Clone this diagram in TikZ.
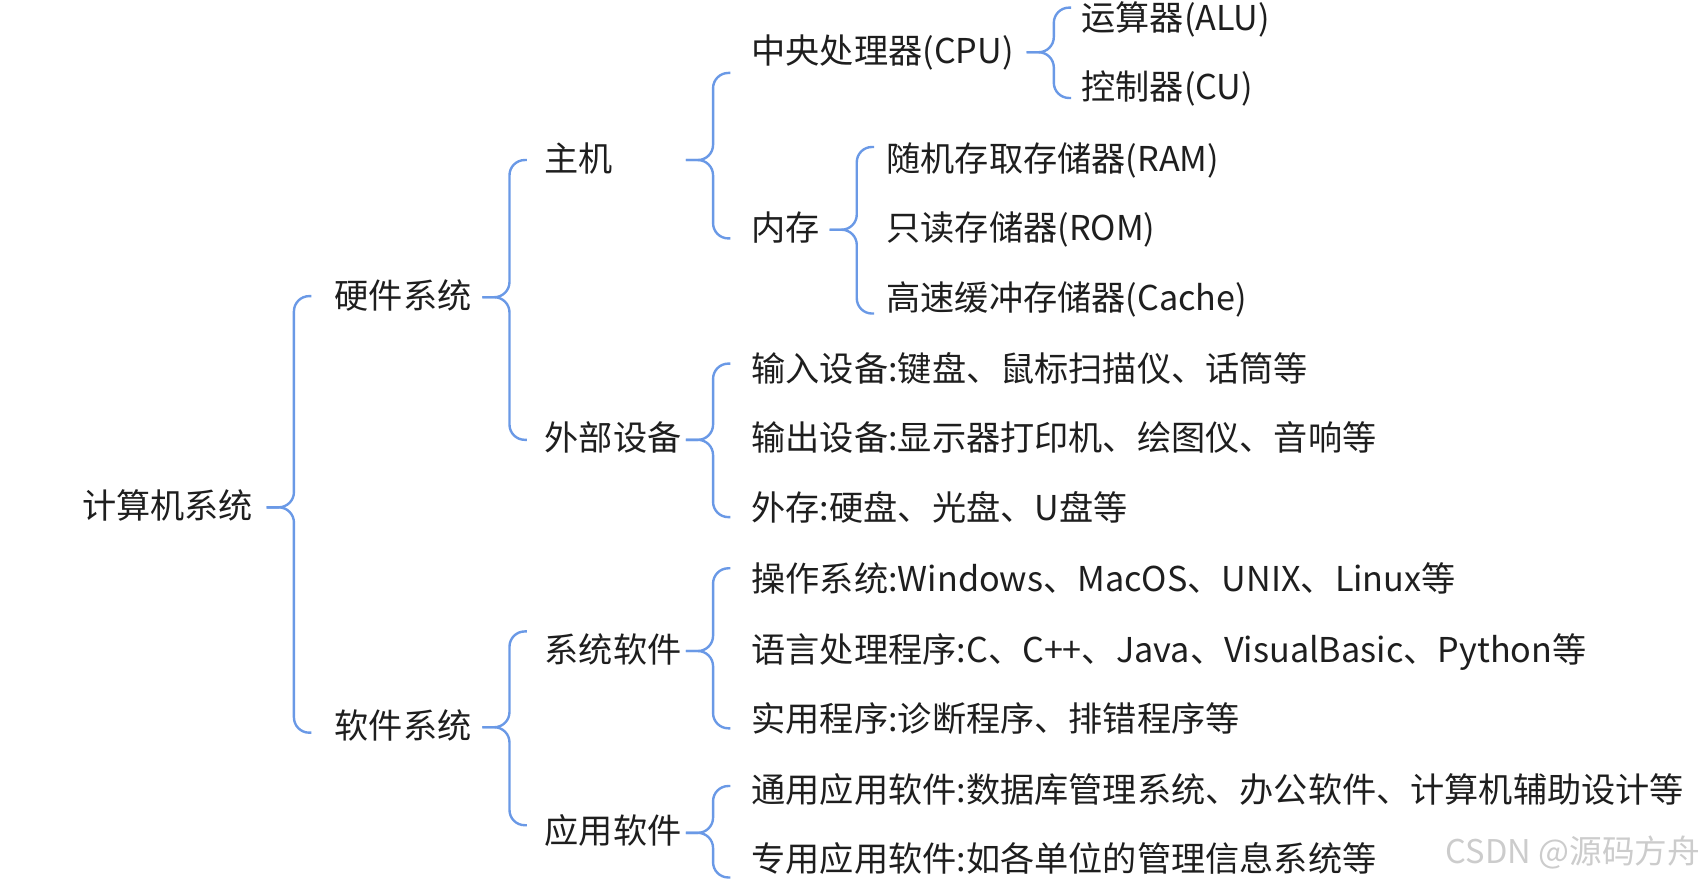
\documentclass[tikz,border=0pt]{standalone}
\usepackage{fontspec}
\setmainfont{Noto Sans CJK SC}
\usepackage{xcolor}
\usetikzlibrary{calc}

\definecolor{linkblue}{RGB}{106,153,230}
\definecolor{inkgray}{RGB}{30,30,30}

\tikzset{
  item/.style = {anchor=west, inner sep=0pt, text height=1.02em, text depth=0em, text=inkgray, font=\fontsize{15.7}{18}\selectfont},
  link/.style = {draw=linkblue, line width=1.1pt, rounded corners=7pt},
}

% parent, stem x, first child, shift, last child, shift
\newcommand{\bracelink}[6]{%
  \draw[link] ($(#2,0 |- #1)+(-25,0)$) -- (#2,0 |- #1) -- ($(#2,0 |- #3)+(0,#4)$) -- ++(16,0);
  \draw[link] ($(#2,0 |- #1)+(-25,0)$) -- (#2,0 |- #1) -- ($(#2,0 |- #5)+(0,#6)$) -- ++(16,0);
}

\begin{document}
\begin{tikzpicture}[x=0.5pt, y=-0.5pt]
            \useasboundingbox (0,0) rectangle (1568,810);
            \def\ca{75} \def\cb{307} \def\cc{500} \def\cd{690} \def\ce{814} \def\cf{993}

            \node[item] (root) at (\ca,466) {计算机系统};
            \node[item] (hw) at (\cb,273) {硬件系统};
            \node[item] (sw) at (\cb,668) {软件系统};
            \node[item] (host) at (\cc,147) {主机};
            \node[item] (periph) at (\cc,404) {外部设备};
            \node[item] (syssw) at (\cc,598) {系统软件};
            \node[item] (appsw) at (\cc,765) {应用软件};
            \node[item] (cpu) at (\cd,48) {中央处理器(CPU)};
            \node[item] (mem) at (\cd,211) {内存};
            \node[item] (alu) at (\cf,18) {运算器(ALU)};
            \node[item] (cu) at (\cf,81) {控制器(CU)};
            \node[item] (ram) at (\ce,147) {随机存取存储器(RAM)};
            \node[item] (rom) at (\ce,211) {只读存储器(ROM)};
            \node[item] (cache) at (\ce,275) {高速缓冲存储器(Cache)};
            \node[item] (input) at (\cd,340) {输入设备:键盘、鼠标扫描仪、话筒等};
            \node[item] (output) at (\cd,404) {输出设备:显示器打印机、绘图仪、音响等};
            \node[item] (ext) at (\cd,468) {外存:硬盘、光盘、U盘等};
            \node[item] (os) at (\cd,533) {操作系统:Windows、MacOS、UNIX、Linux等};
            \node[item] (lang) at (\cd,598) {语言处理程序:C、C++、Java、VisualBasic、Python等};
            \node[item] (util) at (\cd,662) {实用程序:诊断程序、排错程序等};
            \node[item] (gen) at (\cd,727) {通用应用软件:数据库管理系统、办公软件、计算机辅助设计等};
            \node[item] (spec) at (\cd,790) {专用应用软件:如各单位的管理信息系统等};
            \node[item, anchor=east, text=gray!40, font=\fontsize{15}{18}\selectfont] (mark) at (1562,783) {CSDN @源码方舟};

            \bracelink{root}{270}{hw}{-1}{sw}{5}
            \bracelink{hw}{468}{host}{0}{periph}{0}
            \bracelink{sw}{468}{syssw}{-18}{appsw}{-7}
            \bracelink{host}{655}{cpu}{19}{mem}{8}
            \bracelink{periph}{655}{input}{-6}{ext}{7}
            \bracelink{syssw}{655}{os}{-11}{util}{7}
            \bracelink{appsw}{655}{gen}{-5}{spec}{16}
            \bracelink{cpu}{968}{alu}{-11}{cu}{9}
            \bracelink{mem}{787}{ram}{-12}{cache}{13}
        \end{tikzpicture}
\end{document}
